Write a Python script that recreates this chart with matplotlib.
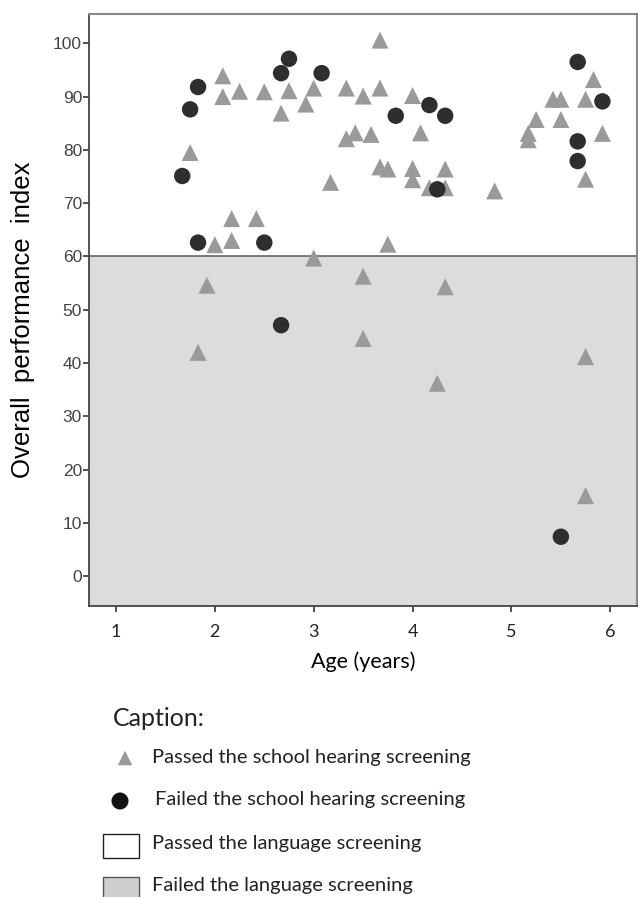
import matplotlib.pyplot as plt
from matplotlib.patches import Rectangle

# passed the school hearing screening (triangles)
passed_age = [2.08, 2.08, 2.25, 2.50, 2.75, 2.67, 3.00, 2.92, 1.75, 2.17,
              2.42, 2.00, 2.17, 3.17, 3.33, 3.50, 3.67, 3.33, 3.42, 3.58,
              3.67, 3.67, 3.75, 4.00, 4.08, 4.00, 4.00, 4.33, 4.17, 4.33,
              4.83, 3.75, 3.00, 3.50, 4.33, 1.92, 5.42, 5.50, 5.75, 5.83,
              5.25, 5.50, 5.17, 5.17, 5.92, 5.75, 1.83, 3.50, 4.25, 5.75,
              5.75]
passed_score = [93.9, 90.0, 91.0, 90.9, 91.1, 86.9, 91.6, 88.6, 79.5, 67.1,
                67.1, 62.2, 63.0, 73.9, 91.6, 90.1, 100.6, 82.1, 83.2, 82.9,
                91.6, 76.8, 76.4, 90.2, 83.2, 76.5, 74.4, 76.4, 72.9, 72.9,
                72.3, 62.3, 59.7, 56.3, 54.3, 54.6, 89.5, 89.5, 89.5, 93.2,
                85.7, 85.7, 83.1, 81.9, 83.1, 74.5, 42.0, 44.6, 36.2, 41.2,
                15.1]

# failed the school hearing screening (circles)
failed_age = [1.83, 1.75, 1.67, 1.83, 2.50, 2.75, 2.67, 3.08, 5.67, 5.92,
              3.83, 4.17, 4.33, 5.67, 5.67, 4.25, 2.67, 5.50]
failed_score = [91.8, 87.6, 75.1, 62.6, 62.6, 97.1, 94.4, 94.4, 96.5, 89.1,
                86.4, 88.4, 86.4, 81.6, 77.9, 72.6, 47.1, 7.4]

cutoff = 60
y_ticks = list(range(0, 101, 10))
x_ticks = [1, 2, 3, 4, 5, 6]

captions = ["Passed the school hearing screening",
            "Failed the school hearing screening",
            "Passed the language screening",
            "Failed the language screening"]

tri_color = "#9a9a9a"
dot_color = "#2e2e2e"
fail_fill = "#dcdcdc"
txt_font = ["Lato", "DejaVu Sans"]
arial = ["Liberation Sans", "DejaVu Sans"]
narrow = ["Liberation Sans Narrow", "Liberation Sans", "DejaVu Sans"]

fig = plt.figure(figsize=(6.38, 8.97), dpi=100)
ax = fig.add_axes([89 / 638, 1 - 606 / 897, (637 - 89) / 638, (606 - 14) / 897])

x_lo, x_hi = 0.727, 6.27
y_lo, y_hi = -5.6, 105.5
ax.set_xlim(x_lo, x_hi)
ax.set_ylim(y_lo, y_hi)

ax.axhspan(y_lo, cutoff, color=fail_fill, zorder=0, lw=0)
ax.axhline(cutoff, color="#666666", lw=1.2, zorder=1)

ax.scatter(passed_age, passed_score, marker="^", s=150, color=tri_color,
           edgecolors="none", zorder=3)
ax.scatter(failed_age, failed_score, marker="o", s=140, color=dot_color,
           edgecolors="none", zorder=4)

ax.set_xticks(x_ticks)
ax.set_yticks(y_ticks)
ax.tick_params(axis="y", length=4, width=1.2, color="#333333", labelsize=12.5,
               labelcolor="#444444", pad=1)
ax.tick_params(axis="x", length=4, width=1.2, color="#333333", labelsize=13,
               labelcolor="#222222", pad=9)
for lab in ax.get_yticklabels():
    lab.set_family(narrow)
for lab in ax.get_xticklabels():
    lab.set_family(txt_font)

for side in ["top", "right"]:
    ax.spines[side].set_color("#888888")
    ax.spines[side].set_linewidth(1.5)
for side in ["left", "bottom"]:
    ax.spines[side].set_color("#444444")
    ax.spines[side].set_linewidth(1.3)

ax.set_xlabel("Age (years)", fontsize=15.5, family=txt_font, labelpad=8)
ax.set_ylabel("Overall  performance  index", fontsize=18.5, family=arial)
ax.yaxis.set_label_coords(-0.0985, 0.483)

# caption block under the chart, in pixel coordinates
leg_ax = fig.add_axes([0, 0, 1, 1], facecolor="none")
leg_ax.set_xlim(0, 638)
leg_ax.set_ylim(897, 0)
leg_ax.axis("off")
leg_ax.text(113, 719, "Caption:", fontsize=18, family=txt_font,
            va="center", color="#222222")
leg_ax.scatter([125], [758], marker="^", s=110, color=tri_color,
               edgecolors="none")
leg_ax.scatter([120], [801], marker="o", s=150, color="#111111",
               edgecolors="none")
leg_ax.add_patch(Rectangle((103, 834), 36, 24, facecolor="white",
                           edgecolor="#222222", lw=1))
leg_ax.add_patch(Rectangle((103, 877), 36, 24, facecolor="#cfcfcf",
                           edgecolor="#555555", lw=1))
text_x = [152, 155, 152, 152]
text_y = [757, 800, 844, 885]
for tx, ty, cap in zip(text_x, text_y, captions):
    leg_ax.text(tx, ty, cap, fontsize=14.5, family=txt_font, va="center",
                color="#222222")

fig.savefig("out.png", dpi=100)
